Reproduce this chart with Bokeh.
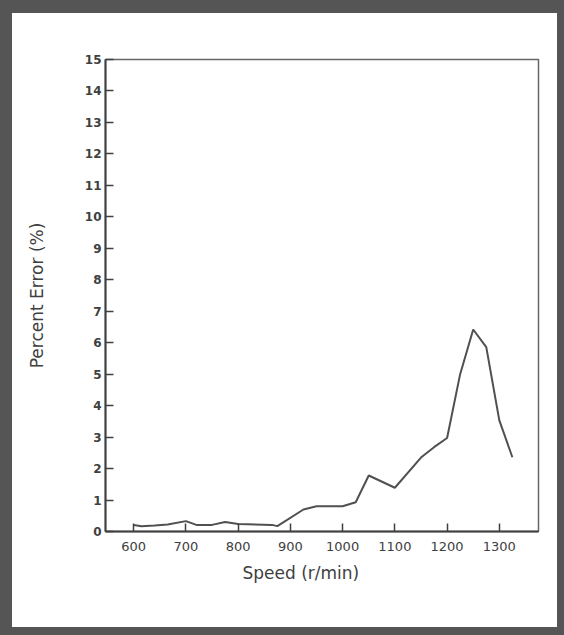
from bokeh.plotting import figure
from bokeh.models import Range1d, FixedTicker, Title
from bokeh.embed import file_html
from bokeh.resources import INLINE

# Percent error of the speed estimate across the speed range
speed = [600, 615, 640, 665, 700, 720, 750, 775, 800, 865, 875, 925, 950,
         1000, 1025, 1050, 1100, 1150, 1175, 1200, 1225, 1250, 1275, 1300, 1325]
error = [0.21, 0.17, 0.19, 0.22, 0.33, 0.21, 0.21, 0.30, 0.24, 0.21, 0.17, 0.70, 0.80,
         0.80, 0.93, 1.78, 1.39, 2.35, 2.68, 2.97, 5.00, 6.42, 5.86, 3.53, 2.36]

x_ticks = [600, 700, 800, 900, 1000, 1100, 1200, 1300]
y_ticks = list(range(0, 16))

INK = "#404040"
FONT = "DejaVu Sans"

p = figure(width=564, height=635, output_backend="svg", toolbar_location=None,
           x_range=Range1d(546, 1375), y_range=Range1d(0, 15),
           min_border_left=93, min_border_right=38, min_border_top=46,
           min_border_bottom=117, background_fill_color="white",
           border_fill_color="white")
# dark picture frame around the whole page
p.styles = {"border-style": "solid", "border-color": "#555555",
            "border-width": "13px 7px 8px 12px"}

p.grid.visible = False
p.outline_line_color = "#666666"
p.outline_line_width = 1.5

p.line(speed, error, line_color="#505050", line_width=2)

for ax in (p.xaxis[0], p.yaxis[0]):
    ax.axis_line_color = INK
    ax.axis_line_width = 2
    ax.major_tick_in = 8
    ax.major_tick_out = 0
    ax.major_tick_line_color = INK
    ax.major_tick_line_width = 1.5
    ax.minor_tick_line_color = None
    ax.major_label_text_color = INK
    ax.major_label_text_font = FONT

p.xaxis.ticker = FixedTicker(ticks=x_ticks)
p.xaxis.major_label_text_font_size = "13px"
p.xaxis.major_label_standoff = 10

p.yaxis.ticker = FixedTicker(ticks=y_ticks)
p.yaxis.major_label_text_font_size = "12px"
p.yaxis.major_label_text_font_style = "bold"
p.yaxis.major_label_standoff = 4
p.yaxis.axis_label = "Percent Error (%)"
p.yaxis.axis_label_text_font = FONT
p.yaxis.axis_label_text_font_size = "17px"
p.yaxis.axis_label_text_font_style = "normal"
p.yaxis.axis_label_text_color = INK
p.yaxis.axis_label_standoff = 35

p.add_layout(Title(text="Speed (r/min)", align="left", offset=137, standoff=14,
                   text_font=FONT, text_font_size="17px", text_font_style="normal",
                   text_color=INK), "below")

open("out.html", "w").write(file_html(p, INLINE))
